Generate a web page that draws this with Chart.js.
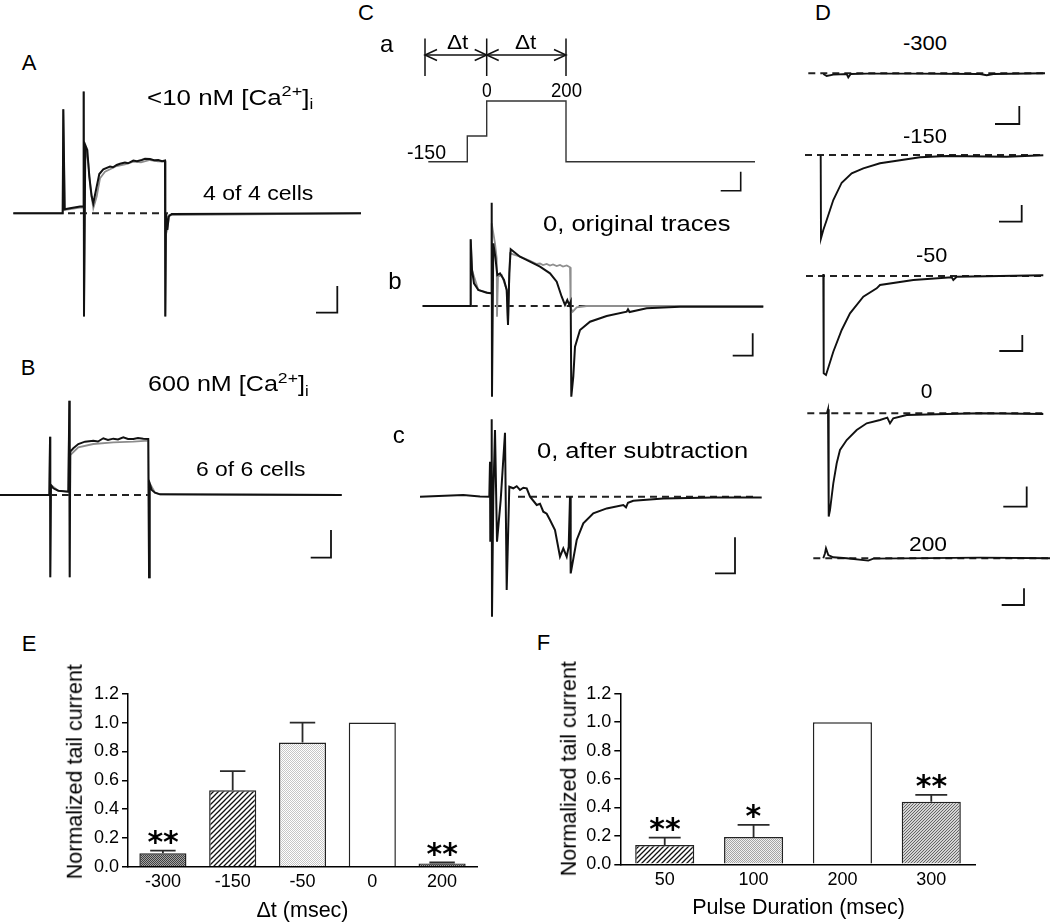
<!DOCTYPE html>
<html><head><meta charset="utf-8">
<script src="https://cdn.jsdelivr.net/npm/chart.js@4.4.1/dist/chart.umd.min.js"></script>
<style>
html,body{margin:0;padding:0;background:#fff;}
#wrap{position:relative;width:1050px;height:924px;overflow:hidden;font-family:"Liberation Sans",Arial,sans-serif;color:#000;}
canvas{position:absolute;}
.t{position:absolute;white-space:nowrap;line-height:1;transform-origin:0 50%;color:#000;}
.sup{font-size:.7em;position:relative;top:-.55em;}
.sub{font-size:.66em;position:relative;top:.3em;}
</style></head><body><div id="wrap"></div>
<script>
// ---------------- DATA ----------------
// Bar chart E
const catsE = ['-300','-150','-50','0','200'];
const meansE = [0.093, 0.530, 0.862, 1.000, 0.023];
const semE   = [0.019, 0.133, 0.138, 0.000, 0.006];
const sigE   = ['**','','','','**'];
// Bar chart F
const catsF = ['50','100','200','300'];
const meansF = [0.136, 0.192, 1.000, 0.441];
const semF   = [0.052, 0.086, 0.000, 0.047];
const sigF   = ['**','*','','**'];
const yTicks = [0.0, 0.2, 0.4, 0.6, 0.8, 1.0, 1.2];

// Traces: [time, current] (arbitrary units; 0 = baseline, positive = outward)
const aGrey  = [[13.3,0],[62.7,0],[63.3,104],[64.7,3.3],[80,5.7],[83,5.7],[83.7,121.7],[84,-103.3],[85.3,66.7],[88.3,50],[90.7,23.3],[93.3,5],[96.7,16.7],[100,35],[105,41.7],[116.7,47.3],[125,49],[133.3,51.7],[141,51],[150,53.3],[158,52],[165,51.7],[165.3,-103.3],[166.3,0],[167.7,-13.3],[169.3,-1.7],[361,0]];
const aBlack = [[13.3,0],[62.7,0],[63.3,104],[64.7,4],[70,5],[80,6.7],[83,6.7],[83.7,121.7],[84,-103.3],[85.3,68.3],[87.3,63.3],[89.3,36.7],[91.7,16.7],[93.3,10],[96,23.3],[99.3,39.3],[103.3,44],[110,46.7],[113,46],[116.7,48.3],[120,49.5],[125,50.7],[128,50],[133.3,52.7],[137,52],[141.7,53.3],[145,54.5],[150,54.3],[154,53],[158.3,53.3],[162,52],[165,52.7],[165.3,-103.3],[166,0],[167.3,-16.7],[168.7,-3.3],[171.7,-0.7],[361,0]];
const bGrey  = [[0,0],[49.3,0],[50,58.3],[50.3,-82.3],[51,10],[58.3,4.3],[68.3,3.3],[69.3,94.3],[69.7,-82.3],[70.3,40],[78.3,47.7],[93.3,51],[113.3,52.7],[133.3,53.3],[148.3,54.3],[149,-82.3],[149.7,11.7],[155,2.3],[160,0.7],[341.7,0]];
const bBlack = [[0,0],[49.3,0],[50,58.3],[50.3,-82.3],[51,10],[53.3,6.7],[58.3,4.3],[68.3,3.3],[69.3,94.3],[69.7,-82.3],[70.3,43.3],[73.3,46.7],[78.3,51],[85,53.3],[93.3,54.3],[98,53.5],[103.3,56.7],[108,55],[113.3,56.3],[118,55.5],[123.3,57.7],[128,56],[133.3,56],[138,57],[143.3,56.3],[148.3,56],[149,-82.3],[149.7,11.7],[151.7,5],[155,2.3],[160,0.7],[341.7,0]];
// Protocol (C a)
const protocol = [[48.3,0],[87.3,0],[87.3,25.7],[106.7,25.7],[106.7,60.7],[186,60.7],[186,0],[375,0]];
const dtMarks = [45, 106.7, 186];
// C b
const cbGrey  = [[42.7,0],[90,0],[90.7,66.7],[92,36],[98.3,16],[111,12.7],[111.7,82.7],[115,62.7],[116.7,47.7],[117,-10.7],[118,29.3],[121.7,31],[126.7,16],[128,-19],[130,52.7],[140,49.3],[150,45.3],[156.7,42],[160,42.5],[163,41],[166.7,42],[170,40.5],[173,41.5],[176.7,40],[180,41],[183,39.5],[186.7,40.5],[190,38.7],[190.7,-2.3],[192.7,-5.7],[196.7,-1.3],[206.7,0],[383.3,0]];
const cbBlack = [[42.7,0],[90,0],[90.7,66.7],[92,36],[94,22.7],[98.3,16],[106.7,13.3],[111,12.7],[111.7,103.3],[112,-90.7],[113.3,62.7],[115.3,49.3],[117.3,31],[120,32.7],[124,26],[126.7,16],[128,-19],[129.3,32.7],[130.7,56.7],[140,49.3],[150,44.3],[160,39.3],[170,32.7],[176.7,24.3],[181.7,9.3],[185,1],[187.3,6],[189.3,1],[190.7,4.3],[191.3,-90.7],[193.3,-70.7],[195,-40.7],[200,-24],[210,-15.7],[226.7,-10],[246.7,-5.7],[248,-3.3],[249.5,-6],[266.7,-2.3],[300,-0.7],[383.3,-0.7]];
// C c
const ccBlack = [[40,0],[83.3,1.7],[100,0.3],[109.3,0],[110,35],[110.3,-45],[111,0],[111.7,77.4],[112,-120],[113.3,0],[115,66.7],[117,-45],[120.7,-3.3],[125,64],[126.7,-93.3],[129.3,10],[133.3,8.4],[136.7,10.5],[140,6.7],[143.3,9],[146.7,8.4],[150,0],[156.7,-8.3],[160,-7],[163.3,-15],[166.7,-17],[170,-23.3],[175,-33.3],[180,-60],[183.3,-51.7],[186.7,-60],[188.7,-50],[190,0],[190.7,-76.7],[196.7,-43.3],[203.3,-26.7],[213.3,-16.7],[226.7,-11.7],[243.3,-8.3],[246,-10.6],[248,-6],[253.3,-4],[283.3,-1.7],[333.3,-0.7],[381.7,-0.7]];
// D (tail currents for each Δt)
const dM300 = [[43.3,-0.7],[46.7,-2.7],[53.3,-1.3],[66.7,-0.7],[68.3,-4],[70.7,-0.7],[86.7,-0.3],[133.3,-0.3],[200,-0.7],[206.7,-2],[213.3,-0.7],[265,0]];
const dM150 = [[40.7,0],[41,-83.3],[43.3,-75],[46.7,-65],[53.3,-45],[61.7,-27.7],[71.7,-18.3],[83.3,-13.3],[100,-8.3],[116.7,-5.7],[140,-2.3],[166.7,-1],[226.7,-1.7],[263.3,-0.3]];
const dM50  = [[43.3,2],[43.7,-97.3],[46,-99],[53.3,-75.7],[61.7,-54],[70,-37.3],[83.3,-20.7],[96.7,-12.3],[100,-9],[133.3,-4],[171.7,-1.3],[173.3,-4],[176.7,-0.7],[263.3,0.7]];
const d0    = [[46.7,-0.7],[48,4],[48.7,-103.3],[50,-96.7],[53.3,-70],[56.7,-50],[60,-36.7],[66.7,-26.7],[76.7,-16.7],[86.7,-10],[100,-6.7],[107.3,-4.3],[110,-10],[113.3,-5],[126.7,-1.7],[166.7,-0.7],[200,0],[263.3,-0.7]];
const d200  = [[43.3,0],[45,5],[46,10],[48.3,3.3],[53.3,1],[66.7,0],[88.3,-2.3],[93.3,-0.3],[200,0.7],[270,0]];

// ---------------- LAYOUT / STYLE ----------------
const FONT = '"Liberation Sans", Arial, sans-serif';
Chart.defaults.font.family = FONT;
const wrap = document.getElementById('wrap');
const fillStylesE = ['dark','hatch','light','white','dark'];
const fillStylesF = ['hatch','medium','white','fine'];

function mkCanvas(L,T,W,H){
  const c=document.createElement('canvas');
  c.width=W;c.height=H;c.style.left=L+'px';c.style.top=T+'px';c.style.width=W+'px';c.style.height=H+'px';
  wrap.appendChild(c);return c;
}
const toXY = a => a.map(p=>({x:p[0],y:p[1]}));

function tracePanel(box, baseY, series){
  const [L,T,W,H]=box;
  const c=mkCanvas(L,T,W,H);
  new Chart(c,{type:'line',
    data:{datasets:series.map((s,i)=>({data:toXY(s.pts),borderColor:s.color||'#111',borderWidth:s.w||1.8,
      borderDash:s.dash||[],pointRadius:0,tension:0,clip:false,fill:false,order:s.order!==undefined?s.order:i,
      borderCapStyle:'butt',borderJoinStyle:'miter'}))},
    options:{responsive:false,animation:false,devicePixelRatio:1,events:[],layout:{padding:0},
      plugins:{legend:{display:false},tooltip:{enabled:false}},
      scales:{x:{type:'linear',display:false,min:0,max:W},
              y:{type:'linear',display:false,min:baseY-(T+H),max:baseY-T}}}});
}
const DASH=[7,5];
// A
tracePanel([0,80,370,250],213.3,[
  {pts:[[316,-99.3],[337.3,-99.3],[337.3,-72.7]],w:1.8,order:0},
  {pts:aBlack,w:2,order:1},
  {pts:aGrey,color:'#8c8c8c',w:1.8,order:2},
  {pts:[[68,0],[168,0]],dash:DASH,w:2,color:'#222',order:3}]);
// B
tracePanel([0,380,350,210],495,[
  {pts:[[310.7,-62.7],[331,-62.7],[331,-35]],w:1.8,order:0},
  {pts:bBlack,w:1.9,order:1},
  {pts:bGrey,color:'#8c8c8c',w:1.8,order:2},
  {pts:[[50,0],[150,0]],dash:DASH,w:2,color:'#222',order:3}]);
// C a (protocol)
const markerSeries = [];
dtMarks.forEach(t=>markerSeries.push({pts:[[t,123.3],[t,85.7]],w:1.5}));
markerSeries.push({pts:[[dtMarks[0],106.7],[dtMarks[2],106.7]],w:1.5});
[[dtMarks[0],1],[dtMarks[1],-1],[dtMarks[1],1],[dtMarks[2],-1]].forEach(([t,dir])=>{
  markerSeries.push({pts:[[t+dir*12,112.2],[t,106.7],[t+dir*12,101.2]],w:1.5});
});
tracePanel([380,25,385,175],161.7,[
  {pts:[[340.7,-29],[360.7,-29],[360.7,-10]],w:1.6},
  {pts:protocol,w:1.4,color:'#333'},
  ...markerSeries]);
// C b
tracePanel([380,195,385,210],306,[
  {pts:[[352.7,-49.7],[372.7,-49.7],[372.7,-27.3]],w:1.8,order:0},
  {pts:cbBlack,w:2,order:1},
  {pts:cbGrey,color:'#8f8f8f',w:1.8,order:2},
  {pts:[[42.7,0],[380,0]],dash:DASH,w:2,color:'#222',order:3}]);
// C c
tracePanel([380,410,385,215],496.7,[
  {pts:[[335,-76.6],[355,-76.6],[355,-40.6]],w:1.8,order:0},
  {pts:ccBlack,w:2,order:1},
  {pts:[[138,0],[378,0]],dash:DASH,w:2,color:'#222',order:2}]);
// D
const Dpanels = [
  {box:[780,55,270,75],base:73.3,pts:dM300,sb:[[215,-50.7],[239.3,-50.7],[239.3,-32.7]],dash:[28.3,265]},
  {box:[780,145,270,100],base:155,pts:dM150,sb:[[219,-66.7],[241.7,-66.7],[241.7,-50]],dash:[25,261.7]},
  {box:[780,265,270,115],base:276,pts:dM50,sb:[[219.3,-75],[242.3,-75],[242.3,-59]],dash:[26,263.3]},
  {box:[780,402,270,122],base:413.3,pts:d0,sb:[[223.3,-93.3],[246.7,-93.3],[246.7,-73.3]],dash:[27.3,265]},
  {box:[780,545,270,70],base:558.3,pts:d200,sb:[[221.7,-46.7],[244,-46.7],[244,-30]],dash:[33.3,268]}];
Dpanels.forEach(p=>tracePanel(p.box,p.base,[
  {pts:p.sb,w:1.8,order:0},
  {pts:p.pts,w:1.9,order:1},
  {pts:[[p.dash[0],0],[p.dash[1],0]],dash:DASH,w:2,color:'#222',order:2}]));

// ---------------- BAR CHARTS ----------------
function makePattern(kind){
  if(kind==='white') return '#ffffff';
  const p=document.createElement('canvas');const g=p.getContext('2d');
  if(kind==='dark'||kind==='light'||kind==='medium'){
    const cols={dark:['#a2a2a2','#404040'],light:['#ffffff','#c6c6c6'],medium:['#f0f0f0','#a4a4a4']}[kind];
    p.width=2;p.height=2;g.fillStyle=cols[0];g.fillRect(0,0,2,2);g.fillStyle=cols[1];g.fillRect(0,0,1,1);g.fillRect(1,1,1,1);
  } else {
    const s=kind==='hatch'?5:3;
    p.width=s;p.height=s;g.fillStyle=kind==='hatch'?'#ffffff':'#d4d4d4';g.fillRect(0,0,s,s);
    g.strokeStyle=kind==='hatch'?'#111':'#5a5a5a';g.lineWidth=kind==='hatch'?1.3:0.9;
    g.beginPath();g.moveTo(-1,s+1);g.lineTo(s+1,-1);g.moveTo(-1,1);g.lineTo(1,-1);g.moveTo(s-1,s+1);g.lineTo(s+1,s-1);g.stroke();
  }
  return g.createPattern(p,'repeat');
}
const errPlugin={id:'errbars',afterDatasetsDraw(chart,args,opts){
  const ctx=chart.ctx,meta=chart.getDatasetMeta(0),ys=chart.scales.y,ds=chart.data.datasets[0];
  meta.data.forEach((bar,i)=>{const sem=opts.sems[i];if(!sem)return;
    const p=bar.getProps(['x','y','width'],true);const top=ys.getPixelForValue(ds.data[i]+sem);const half=p.width*0.27;
    ctx.save();ctx.strokeStyle='#2a2a2a';ctx.lineWidth=1.8;ctx.beginPath();
    ctx.moveTo(p.x,p.y);ctx.lineTo(p.x,top);ctx.moveTo(p.x-half,top);ctx.lineTo(p.x+half,top);ctx.stroke();ctx.restore();});
}};
function barPanel(box,pad,yW,xH,cats,means,sems,styles,barPct){
  const [L,T,W,H]=box;const c=mkCanvas(L,T,W,H);
  return new Chart(c,{type:'bar',
    data:{labels:cats,datasets:[{data:means,backgroundColor:styles.map(makePattern),borderColor:'#222',borderWidth:1.5,
      borderSkipped:'bottom',barPercentage:barPct,categoryPercentage:1}]},
    options:{responsive:false,animation:false,devicePixelRatio:1,events:[],
      layout:{autoPadding:false,padding:pad},
      plugins:{legend:{display:false},tooltip:{enabled:false},errbars:{sems}},
      scales:{
        x:{type:'category',offset:true,z:1,grid:{display:false,drawTicks:false},border:{display:true,color:'#000',width:1.5},
           ticks:{color:'#000',font:{size:18},padding:5,maxRotation:0,autoSkip:false},afterFit:s=>{s.height=xH;}},
        y:{type:'linear',min:0,max:1.2,z:1,afterBuildTicks:s=>{s.ticks=yTicks.map(v=>({value:v}));},
           ticks:{color:'#000',font:{size:18},padding:3,callback:v=>Number(v).toFixed(1)},
           grid:{drawOnChartArea:false,drawTicks:true,tickLength:6,color:'#000',lineWidth:1.5},
           border:{display:true,color:'#000',width:1.5},afterFit:s=>{s.width=yW;}}}},
    plugins:[errPlugin]});
}
const chE=barPanel([0,680,490,244],{top:9.3,right:13,left:0,bottom:0},128,57.3,catsE,meansE,semE,fillStylesE,0.675);
const chF=barPanel([500,680,490,244],{top:7.3,right:14.3,left:0,bottom:0},120.3,59.7,catsF,meansF,semF,fillStylesF,0.665);

// ---------------- TEXT ----------------
const mctx=document.createElement('canvas').getContext('2d');
function placeText(o){
  const fam=o.fam||FONT,wt=o.weight||'normal';
  const d=document.createElement('div');d.className='t';d.innerHTML=o.t;
  d.style.fontFamily=fam;d.style.fontSize=o.s+'px';d.style.fontWeight=wt;wrap.appendChild(d);
  mctx.font=`${wt} ${o.s}px ${fam}`;
  const fm=mctx.measureText('Hg');
  const A=fm.fontBoundingBoxAscent||0.905*o.s, D=fm.fontBoundingBoxDescent||0.212*o.s;
  let base=o.b;
  if(o.cy!==undefined){const m=mctx.measureText(d.textContent);base=o.cy+(m.actualBoundingBoxAscent-m.actualBoundingBoxDescent)/2;}
  d.style.top=(base-((o.s-(A+D))/2+A))+'px';
  const nat=d.offsetWidth;const sx=o.w?o.w/nat:1;
  d.style.left=(o.cx!==undefined?o.cx-nat*sx/2:o.x)+'px';
  if(sx!==1)d.style.transform=`scaleX(${sx})`;
  return d;
}
function placeVText(t,cx,cy,s){
  const d=document.createElement('div');d.className='t';d.textContent=t;d.style.fontSize=s+'px';wrap.appendChild(d);
  const w=d.offsetWidth,h=d.offsetHeight;
  d.style.left=(cx-w/2)+'px';d.style.top=(cy-h/2)+'px';d.style.transformOrigin='50% 50%';d.style.transform='rotate(-90deg)';
}
const CA='[Ca<span class="sup">2+</span>]<span class="sub">i</span>';
const LABELS=[
  {t:'A',x:21.7,b:70,s:22},
  {t:'&lt;10 nM '+CA,x:146.7,b:105,s:22,w:166},
  {t:'4 of 4 cells',x:202.7,b:200,s:21,w:110},
  {t:'B',x:20.7,b:375,s:22},
  {t:'600 nM '+CA,x:148.3,b:391.7,s:22,w:161},
  {t:'6 of 6 cells',x:196,b:476,s:21,w:109},
  {t:'C',x:358,b:20,s:22},
  {t:'a',x:380,b:52.7,s:24},
  {t:'Δt',x:446.7,b:49.3,s:20,w:21.5},
  {t:'Δt',x:515,b:49.3,s:20,w:21.5},
  {t:'0',x:481.7,b:97.3,s:21,w:10},
  {t:'200',x:550.7,b:97.3,s:21,w:31},
  {t:'-150',x:407.3,b:159,s:21,w:39},
  {t:'b',x:388.3,b:289.3,s:24},
  {t:'0, original traces',x:543.3,b:231.7,s:22,w:187},
  {t:'c',x:392.7,b:443.3,s:24},
  {t:'0, after subtraction',x:536.7,b:458.3,s:22,w:211},
  {t:'D',x:815,b:20.7,s:22},
  {t:'-300',x:903.3,b:50,s:21,w:44},
  {t:'-150',x:903.3,b:142.7,s:21,w:44},
  {t:'-50',x:916,b:261.7,s:21,w:31},
  {t:'0',cx:926.7,b:398.3,s:21},
  {t:'200',x:909.3,b:550.7,s:21,w:38},
  {t:'E',x:21.7,b:651.7,s:22},
  {t:'F',x:536.7,b:650.7,s:22},
  {t:'Δt (msec)',cx:302.5,b:918,s:21.5},
  {t:'Pulse Duration (msec)',cx:798.7,b:915,s:21.5}];
LABELS.forEach(placeText);
placeVText('Normalized tail current',75.8,771.7,21.5);
placeVText('Normalized tail current',569.2,769.2,21.5);
// significance stars positioned from the bar chart scales
function stars(ch,means,sems,sigs){
  const meta=ch.getDatasetMeta(0),ys=ch.scales.y,cl=ch.canvas.offsetLeft,ct=ch.canvas.offsetTop;
  sigs.forEach((s,i)=>{if(!s)return;const bar=meta.data[i];
    const top=ys.getPixelForValue(means[i]+sems[i]);
    placeText({t:s,cx:cl+bar.x,cy:ct+top-12.5,s:30,fam:'"DejaVu Sans", sans-serif',weight:'bold'});});
}
stars(chE,meansE,semE,sigE);
stars(chF,meansF,semF,sigF);
</script></body></html>
